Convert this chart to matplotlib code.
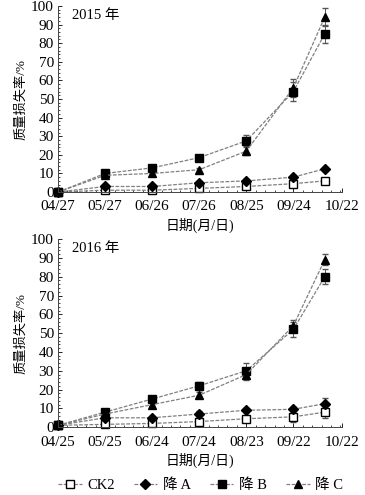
import matplotlib.pyplot as plt
from matplotlib.lines import Line2D
from matplotlib.ticker import MultipleLocator

plt.rcParams['font.family'] = ['Liberation Serif', 'Noto Sans CJK SC']
plt.rcParams['font.size'] = 8

# days since first sampling date
days = [0, 30, 60, 90, 120, 150, 170]
tick_days = [0, 30, 60, 90, 120, 150, 181]
labels_2015 = ['04/27', '05/27', '06/26', '07/26', '08/25', '09/24', '10/22']
labels_2016 = ['04/25', '05/25', '06/24', '07/24', '08/23', '09/22', '10/22']

names = ['CK2', '降 A', '降 B', '降 C']
markers = ['s', 'D', 's', '^']
faces = ['white', 'black', 'black', 'black']

ck2_2015 = [0, 1, 1, 2, 3, 4.5, 6]
a_2015 = [0, 3, 3, 5, 6, 8, 12.5]
b_2015 = [0, 10, 13, 18.5, 27.5, 54, 85]
c_2015 = [0, 9, 10, 12, 22, 56, 94]
err_ck2_2015 = [0, 0, 0, 0.5, 1, 1, 1]
err_a_2015 = [0, 0.5, 0.5, 0.5, 1, 1, 1]
err_b_2015 = [0, 1, 1.5, 1, 3, 5, 5]
err_c_2015 = [0, 1, 1, 1, 2, 5, 5]

ck2_2016 = [1, 1.5, 2, 3, 4.5, 5.5, 8]
a_2016 = [1, 5, 5, 7, 9, 9.5, 12.5]
b_2016 = [1, 8, 15, 22, 30, 52, 80]
c_2016 = [1, 7, 12, 17, 28, 54, 89]
err_ck2_2016 = [0, 1, 1, 1.5, 2, 3, 3]
err_a_2016 = [0, 1, 1, 1.5, 1, 1, 3]
err_b_2016 = [0, 1, 1.5, 2, 4, 4, 4]
err_c_2016 = [0, 1, 1, 1.5, 3, 3, 3]

fig = plt.figure(figsize=(3.65, 4.95), dpi=100)
ax1 = fig.add_axes([0.159, 0.612, 0.778, 0.376])
ax2 = fig.add_axes([0.159, 0.137, 0.778, 0.380])


def draw(ax, series, errs, labels, year):
    for vals, err, m, fc, name in zip(series, errs, markers, faces, names):
        ax.errorbar(days, vals, yerr=err, marker=m, markersize=6 if m != 'D' else 5.5,
                    mfc=fc, mec='black', color='#808080', ls=(0, (3, 1.2)), lw=0.9,
                    ecolor='#555555', elinewidth=0.7, capsize=2, label=name,
                    clip_on=False)
    ax.set_xlim(0, 181)
    ax.set_ylim(0, 100)
    ax.set_xticks(tick_days)
    ax.set_xticklabels(labels)
    ax.yaxis.set_major_locator(MultipleLocator(10))
    ax.yaxis.set_minor_locator(MultipleLocator(2))
    ax.xaxis.set_minor_locator(MultipleLocator(6))
    ax.tick_params(direction='in', length=3, width=0.6, labelsize=11)
    ax.tick_params(axis='x', pad=6)
    ax.tick_params(axis='y', pad=3)
    ax.tick_params(which='minor', direction='in', length=1.5, width=0.5)
    for s in ['top', 'right']:
        ax.spines[s].set_visible(False)
    for s in ['left', 'bottom']:
        ax.spines[s].set_linewidth(0.7)
        ax.spines[s].set_color('#444444')
    ax.set_ylabel('质量损失率/%', fontsize=9.5, labelpad=3)
    ax.set_xlabel('日期(月/日)', fontsize=10, labelpad=3)
    ax.text(0.05, 0.93, year, transform=ax.transAxes, fontsize=10.5)


draw(ax1, [ck2_2015, a_2015, b_2015, c_2015],
     [err_ck2_2015, err_a_2015, err_b_2015, err_c_2015], labels_2015, '2015 年')
draw(ax2, [ck2_2016, a_2016, b_2016, c_2016],
     [err_ck2_2016, err_a_2016, err_b_2016, err_c_2016], labels_2016, '2016 年')

handles = [Line2D([], [], marker=m, mfc=fc, mec='black', markersize=6 if m != 'D' else 5.5,
                  color='#808080', ls=(0, (3, 1.2)), lw=0.9)
           for m, fc in zip(markers, faces)]
fig.legend(handles, names, loc='lower center', ncol=4, frameon=False,
           bbox_to_anchor=(0.55, -0.02), fontsize=10.5, handlelength=1.6,
           columnspacing=1.3, handletextpad=0.4)

fig.savefig('out.png', dpi=100)
